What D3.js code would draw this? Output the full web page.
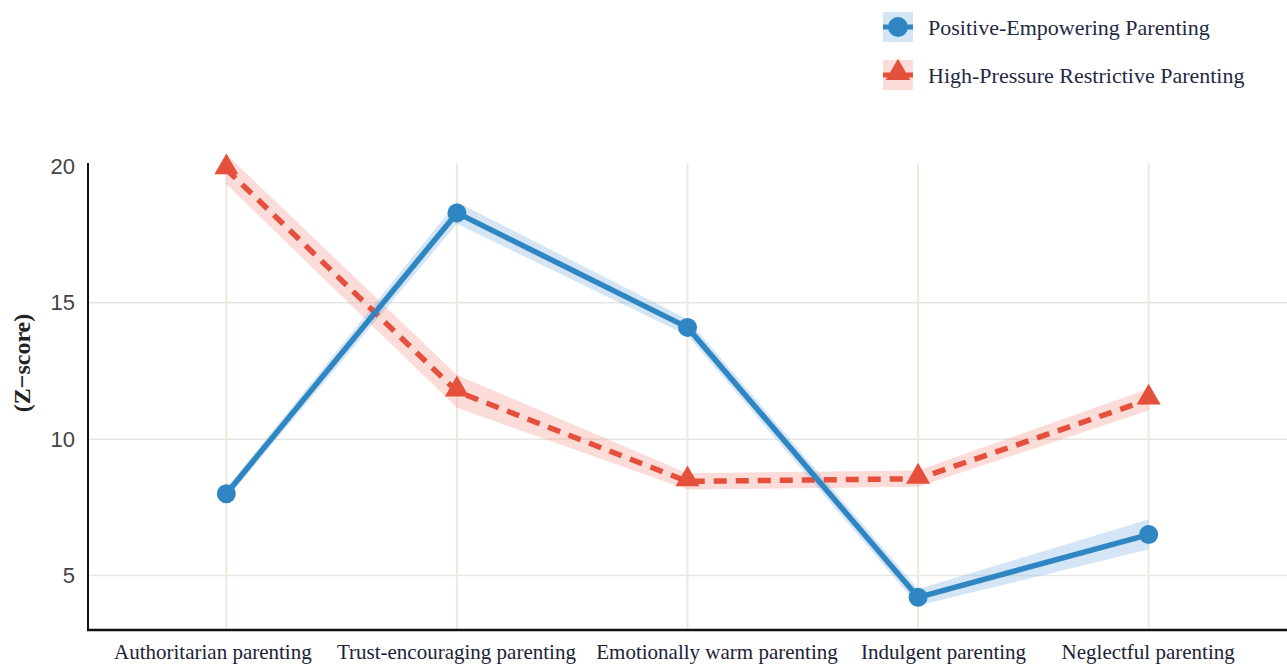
<!DOCTYPE html>
<html>
<head>
<meta charset="utf-8">
<script src="https://cdn.jsdelivr.net/npm/d3@7"></script>
<style>
  html, body { margin: 0; padding: 0; background: #ffffff; }
  svg { display: block; }
</style>
</head>
<body>
<svg id="chart" width="1287" height="665"></svg>
<script>
const categories = ["Authoritarian parenting", "Trust-encouraging parenting", "Emotionally warm parenting", "Indulgent parenting", "Neglectful parenting"];
const seriesNames = ["Positive-Empowering Parenting", "High-Pressure Restrictive Parenting"];
const positiveValues = [8.0, 18.3, 14.1, 4.2, 6.5];
const positiveError = [0.2, 0.4, 0.3, 0.3, 0.55];
const restrictiveValues = [19.9, 11.75, 8.45, 8.55, 11.45];
const restrictiveError = [0.55, 0.6, 0.3, 0.3, 0.4];
const yTicks = [5, 10, 15, 20];
const yGridTicks = [5, 10, 15];
const yLabel = "(Z\u2212score)";

// layout-only nudges for x tick labels (pixels), as placed in the reference
const labelNudge = [-14, -1, 29, 25, -1];

const svg = d3.select("#chart");
const margin = { left: 88, right: 0, top: 163, bottom: 35 };
const W = 1287, H = 665;

const x = d3.scalePoint().domain(categories).range([margin.left, W - margin.right]).padding(0.6);
const y = d3.scaleLinear().domain([3, 20.13]).range([H - margin.bottom, margin.top]);

const blue = "#2f86c3", blueBand = "rgba(120,175,225,0.32)";
const red = "#e4503c", redBand = "rgba(240,130,120,0.28)";

// grid
svg.append("g").selectAll("line").data(yGridTicks).join("line")
  .attr("x1", margin.left).attr("x2", W)
  .attr("y1", d => y(d)).attr("y2", d => y(d))
  .attr("stroke", "#e6e6e3").attr("stroke-width", 1.5);
svg.append("g").selectAll("line").data(categories).join("line")
  .attr("x1", d => x(d)).attr("x2", d => x(d))
  .attr("y1", margin.top).attr("y2", H - margin.bottom)
  .attr("stroke", "#efe8dc").attr("stroke-width", 2);

// axes
const yAxis = d3.axisLeft(y).tickValues(yTicks).tickSize(0).tickPadding(13);
const gy = svg.append("g").attr("transform", `translate(${margin.left},0)`).call(yAxis);
gy.select(".domain").remove();
gy.selectAll("text").attr("font-family", "Liberation Sans, Arial, sans-serif")
  .attr("font-size", 22).attr("fill", "#444");

const xAxis = d3.axisBottom(x).tickSize(0).tickPadding(14);
const gx = svg.append("g").attr("transform", `translate(0,${H - margin.bottom})`).call(xAxis);
gx.select(".domain").remove();
gx.selectAll("text").attr("font-family", "Liberation Serif, Times New Roman, serif")
  .attr("font-size", 21).attr("fill", "#1c2338")
  .attr("dx", (d, i) => labelNudge[i]);

svg.append("line").attr("x1", margin.left).attr("x2", margin.left)
  .attr("y1", margin.top).attr("y2", H - margin.bottom + 1)
  .attr("stroke", "#111").attr("stroke-width", 2);
svg.append("line").attr("x1", margin.left - 1).attr("x2", W)
  .attr("y1", H - margin.bottom).attr("y2", H - margin.bottom)
  .attr("stroke", "#111").attr("stroke-width", 2.5);

svg.append("text").attr("transform", `translate(24,363) rotate(-90)`)
  .attr("text-anchor", "middle").attr("dominant-baseline", "middle")
  .attr("font-family", "Liberation Serif, Times New Roman, serif")
  .attr("font-weight", "bold").attr("font-size", 24).attr("fill", "#222").text(yLabel);

// data
const posData = categories.map((c, i) => ({ c, v: positiveValues[i], e: positiveError[i] }));
const resData = categories.map((c, i) => ({ c, v: restrictiveValues[i], e: restrictiveError[i] }));

const area = d3.area().x(d => x(d.c)).y0(d => y(d.v - d.e)).y1(d => y(d.v + d.e));
const line = d3.line().x(d => x(d.c)).y(d => y(d.v));

svg.append("path").datum(resData).attr("d", area).attr("fill", redBand);
svg.append("path").datum(posData).attr("d", area).attr("fill", blueBand);

svg.append("path").datum(resData).attr("d", line).attr("fill", "none")
  .attr("stroke", red).attr("stroke-width", 5.5).attr("stroke-dasharray", "13,9");
svg.append("path").datum(posData).attr("d", line).attr("fill", "none")
  .attr("stroke", blue).attr("stroke-width", 5.5).attr("stroke-linejoin", "round");

const tri = d3.symbol().type(d3.symbolTriangle).size(250);
svg.append("g").selectAll("path").data(resData).join("path")
  .attr("d", tri).attr("transform", d => `translate(${x(d.c)},${y(d.v) - 2})`)
  .attr("fill", red);
svg.append("g").selectAll("circle").data(posData).join("circle")
  .attr("cx", d => x(d.c)).attr("cy", d => y(d.v)).attr("r", 9.5)
  .attr("fill", blue);

// legend
const legend = svg.append("g");
const items = [
  { name: seriesNames[0], color: blue, band: blueBand, shape: "circle" },
  { name: seriesNames[1], color: red, band: redBand, shape: "triangle" }
];
items.forEach((it, i) => {
  const g = legend.append("g").attr("transform", `translate(883,${12 + i * 48})`);
  g.append("rect").attr("width", 30).attr("height", 30).attr("fill", it.band);
  g.append("line").attr("x1", 0).attr("x2", 30).attr("y1", 15).attr("y2", 15)
    .attr("stroke", it.color).attr("stroke-width", 5);
  if (it.shape === "circle") {
    g.append("circle").attr("cx", 15).attr("cy", 15).attr("r", 10).attr("fill", it.color);
  } else {
    g.append("path").attr("d", d3.symbol().type(d3.symbolTriangle).size(260))
      .attr("transform", "translate(15,13)").attr("fill", it.color);
  }
  g.append("text").attr("x", 45).attr("y", 23).attr("font-family", "Liberation Serif, Times New Roman, serif")
    .attr("font-size", 22).attr("fill", "#1f2a44").text(it.name);
});
</script>
</body>
</html>
